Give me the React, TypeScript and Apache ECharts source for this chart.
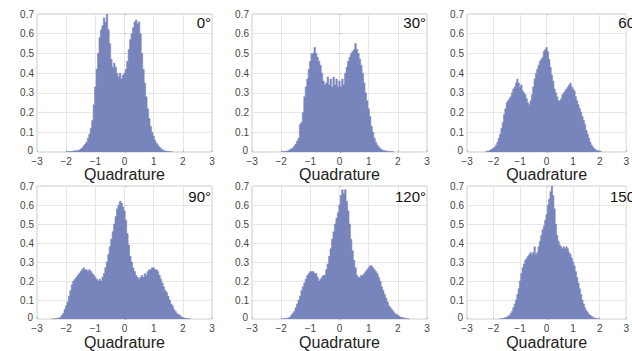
import React, { useEffect, useRef } from "react";
import * as echarts from "echarts";

const BIN_STEP = 0.05;
const angleLabels = ["0°", "30°", "60°", "90°", "120°", "150°"];
const xTicks = [-3, -2, -1, 0, 1, 2, 3];
const yTicks = [0, 0.1, 0.2, 0.3, 0.4, 0.5, 0.6, 0.7];
const binStarts = [-2.0, -2.0, -2.3, -2.5, -2.0, -1.8];

const hist0 = [0.002, 0.002, 0.003, 0.003, 0.004, 0.005, 0.006, 0.007, 0.008, 0.01, 0.015, 0.02, 0.03, 0.04, 0.05, 0.07, 0.09, 0.12, 0.16, 0.24, 0.33, 0.42, 0.5, 0.58, 0.62, 0.64, 0.68, 0.66, 0.7, 0.62, 0.55, 0.47, 0.43, 0.45, 0.43, 0.4, 0.38, 0.4, 0.37, 0.39, 0.4, 0.42, 0.46, 0.52, 0.57, 0.6, 0.63, 0.66, 0.67, 0.65, 0.66, 0.6, 0.5, 0.42, 0.35, 0.28, 0.22, 0.17, 0.13, 0.1, 0.08, 0.06, 0.045, 0.035, 0.025, 0.018, 0.012, 0.008, 0.005, 0.004, 0.003, 0.002, 0.002, 0.001];
const hist30 = [0.002, 0.002, 0.003, 0.004, 0.005, 0.008, 0.012, 0.016, 0.02, 0.03, 0.04, 0.055, 0.07, 0.14, 0.15, 0.2, 0.28, 0.33, 0.37, 0.42, 0.46, 0.5, 0.5, 0.53, 0.5, 0.48, 0.46, 0.44, 0.4, 0.36, 0.34, 0.35, 0.38, 0.34, 0.37, 0.33, 0.38, 0.34, 0.37, 0.33, 0.36, 0.33, 0.37, 0.34, 0.4, 0.43, 0.46, 0.48, 0.5, 0.51, 0.52, 0.55, 0.52, 0.5, 0.47, 0.44, 0.4, 0.35, 0.3, 0.26, 0.22, 0.18, 0.13, 0.1, 0.07, 0.05, 0.035, 0.025, 0.018, 0.012, 0.008, 0.006, 0.005, 0.004, 0.003, 0.002, 0.002, 0.001];
const hist60 = [0.002, 0.003, 0.005, 0.007, 0.01, 0.015, 0.02, 0.025, 0.035, 0.05, 0.07, 0.09, 0.12, 0.15, 0.19, 0.22, 0.25, 0.26, 0.27, 0.28, 0.3, 0.32, 0.33, 0.35, 0.37, 0.35, 0.33, 0.34, 0.31, 0.3, 0.29, 0.27, 0.25, 0.24, 0.26, 0.29, 0.33, 0.37, 0.4, 0.42, 0.44, 0.46, 0.47, 0.48, 0.51, 0.52, 0.53, 0.51, 0.47, 0.43, 0.39, 0.36, 0.32, 0.3, 0.28, 0.26, 0.26, 0.27, 0.29, 0.3, 0.31, 0.32, 0.33, 0.34, 0.35, 0.33, 0.32, 0.31, 0.28, 0.26, 0.24, 0.22, 0.2, 0.18, 0.16, 0.14, 0.11, 0.09, 0.07, 0.05, 0.035, 0.025, 0.018, 0.012, 0.008, 0.006, 0.004, 0.003, 0.002];
const hist90 = [0.001, 0.002, 0.003, 0.004, 0.005, 0.007, 0.01, 0.02, 0.03, 0.05, 0.07, 0.09, 0.12, 0.15, 0.18, 0.2, 0.21, 0.22, 0.23, 0.24, 0.25, 0.26, 0.27, 0.26, 0.26, 0.25, 0.26, 0.25, 0.24, 0.23, 0.22, 0.21, 0.2, 0.21, 0.2, 0.22, 0.24, 0.27, 0.3, 0.34, 0.38, 0.42, 0.46, 0.5, 0.54, 0.58, 0.6, 0.62, 0.61, 0.59, 0.57, 0.52, 0.45, 0.39, 0.33, 0.3, 0.27, 0.25, 0.23, 0.22, 0.21, 0.22, 0.23, 0.22, 0.24, 0.23, 0.25, 0.26, 0.26, 0.27, 0.27, 0.26, 0.26, 0.25, 0.23, 0.21, 0.19, 0.17, 0.15, 0.14, 0.12, 0.1, 0.08, 0.07, 0.05, 0.04, 0.03, 0.025, 0.02, 0.012, 0.008, 0.006, 0.004, 0.003, 0.002, 0.001];
const hist120 = [0.001, 0.002, 0.003, 0.004, 0.005, 0.007, 0.01, 0.02, 0.03, 0.04, 0.06, 0.08, 0.1, 0.12, 0.15, 0.17, 0.19, 0.21, 0.23, 0.24, 0.25, 0.25, 0.25, 0.24, 0.24, 0.22, 0.2, 0.21, 0.22, 0.23, 0.23, 0.26, 0.29, 0.33, 0.37, 0.42, 0.46, 0.5, 0.53, 0.56, 0.6, 0.65, 0.68, 0.66, 0.68, 0.62, 0.57, 0.5, 0.42, 0.36, 0.31, 0.27, 0.23, 0.22, 0.22, 0.23, 0.23, 0.24, 0.25, 0.26, 0.27, 0.28, 0.28, 0.27, 0.26, 0.25, 0.24, 0.22, 0.2, 0.17, 0.15, 0.13, 0.11, 0.09, 0.07, 0.06, 0.05, 0.04, 0.03, 0.025, 0.02, 0.015, 0.01, 0.008, 0.006, 0.004, 0.003, 0.002, 0.001];
const hist150 = [0.001, 0.002, 0.003, 0.004, 0.005, 0.008, 0.01, 0.015, 0.02, 0.03, 0.04, 0.06, 0.08, 0.1, 0.13, 0.16, 0.2, 0.24, 0.27, 0.29, 0.31, 0.32, 0.33, 0.34, 0.35, 0.34, 0.35, 0.38, 0.34, 0.35, 0.38, 0.41, 0.44, 0.47, 0.49, 0.52, 0.55, 0.6, 0.63, 0.67, 0.7, 0.65, 0.58, 0.5, 0.44, 0.41, 0.39, 0.38, 0.37, 0.38, 0.37, 0.38, 0.37, 0.35, 0.34, 0.32, 0.3, 0.28, 0.25, 0.22, 0.19, 0.16, 0.13, 0.1, 0.08, 0.06, 0.045, 0.035, 0.025, 0.02, 0.015, 0.01, 0.006, 0.004, 0.003, 0.002, 0.001];

const histograms = [hist0, hist30, hist60, hist90, hist120, hist150];

const BAR_COLOR = "#7884bc";
const FONT = "'Liberation Sans', Arial, sans-serif";
const LABEL_COLOR = "#444";

export default function App() {
  const ref = useRef<HTMLDivElement>(null);
  useEffect(() => {
    if (!ref.current) return;
    const chart = echarts.init(ref.current, undefined, { renderer: "svg" });
    const lefts = [37, 252, 467];
    const tops = [14, 186];
    const heights = [138, 140];
    const W = 175;
    const grids: any[] = [];
    const xAxes: any[] = [];
    const yAxes: any[] = [];
    const series: any[] = [];
    const graphics: any[] = [];
    histograms.forEach((vals, i) => {
      const col = i % 3;
      const row = Math.floor(i / 3);
      grids.push({
        left: lefts[col],
        top: tops[row],
        width: W,
        height: heights[row],
        show: true,
        borderColor: "#c8c8c8",
        borderWidth: 1,
        backgroundColor: "#fff",
      });
      xAxes.push({
        type: "value",
        gridIndex: i,
        min: xTicks[0],
        max: xTicks[xTicks.length - 1],
        interval: 1,
        name: "Quadrature",
        nameLocation: "middle",
        nameGap: 14,
        nameTextStyle: { fontSize: 16, lineHeight: 12, color: "#222", fontFamily: FONT },
        axisLine: { show: false },
        axisTick: { show: true, inside: true, length: 2, lineStyle: { color: "#bbb" } },
        axisLabel: {
          margin: 4,
          fontSize: 10,
          lineHeight: 10,
          color: LABEL_COLOR,
          fontFamily: FONT,
          formatter: (v: number) => (v < 0 ? "\u2212" + Math.abs(v) : String(v)),
        },
        splitLine: { show: true, lineStyle: { color: "#e6e6e6", width: 1 } },
      });
      yAxes.push({
        type: "value",
        gridIndex: i,
        min: yTicks[0],
        max: yTicks[yTicks.length - 1],
        interval: 0.1,
        axisLine: { show: false },
        axisTick: { show: true, inside: true, length: 2, lineStyle: { color: "#bbb" } },
        axisLabel: {
          margin: 3,
          fontSize: 10,
          lineHeight: 10,
          color: LABEL_COLOR,
          fontFamily: FONT,
          formatter: (v: number) => (v === 0 ? "{z|0}" : String(Math.round(v * 10) / 10)),
          rich: {
            z: { fontSize: 10, lineHeight: 8, color: LABEL_COLOR, fontFamily: FONT, padding: [0, 1, 3, 0] },
          },
        },
        splitLine: { show: true, lineStyle: { color: "#e6e6e6", width: 1 } },
      });
      const start = binStarts[i];
      series.push({
        type: "line",
        xAxisIndex: i,
        yAxisIndex: i,
        step: "middle",
        symbol: "none",
        lineStyle: { width: 0.6, color: BAR_COLOR },
        areaStyle: { color: BAR_COLOR, opacity: 1 },
        data: vals.map((v, k) => [Math.round((start + k * BIN_STEP) * 100) / 100, v]),
        z: 3,
      });
      graphics.push({
        type: "text",
        x: lefts[col] + W - 1,
        y: tops[row] + (row === 0 ? 8 : 10),
        z: 10,
        style: {
          text: angleLabels[i],
          fontSize: 15,
          fontFamily: FONT,
          fill: "#111",
          align: "right",
          verticalAlign: "middle",
        },
      });
    });
    chart.setOption({
      animation: false,
      backgroundColor: "#fff",
      grid: grids,
      xAxis: xAxes,
      yAxis: yAxes,
      series,
      graphic: graphics,
    });
    return () => chart.dispose();
  }, []);
  return (
    <div
      ref={ref}
      style={{ position: "absolute", left: 0, top: 0, width: 632, height: 351, overflow: "hidden" }}
    />
  );
}
